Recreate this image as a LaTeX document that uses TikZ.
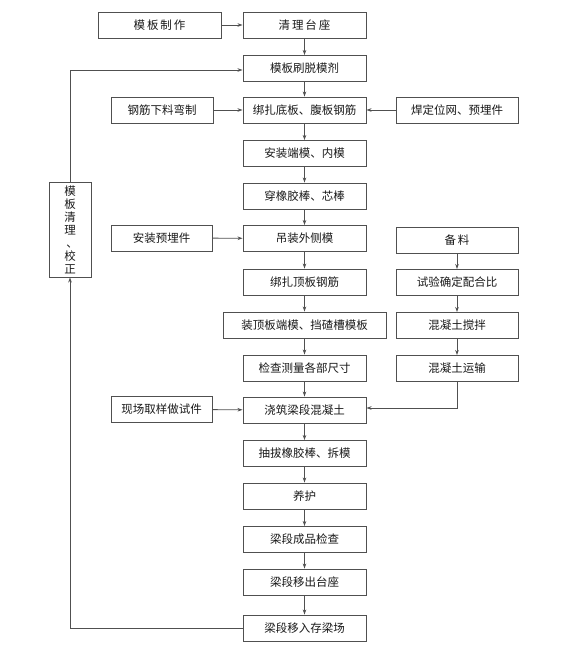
\documentclass[tikz,border=0pt]{standalone}
\usepackage{fontspec}
\setmainfont{Noto Sans CJK SC}
\usetikzlibrary{arrows.meta}
\definecolor{ln}{HTML}{505050}
\begin{document}
\begin{tikzpicture}[x=1pt,y=-1pt,
  bx/.style={draw=ln,line width=0.9pt,minimum height=26pt,inner sep=0pt,text=black!90,font=\fontsize{11.5}{12}\selectfont},
  arr/.style={draw=ln,line width=0.9pt,-{Stealth[length=5pt,width=3.5pt]}},
  ln/.style={draw=ln,line width=0.9pt}]
\useasboundingbox (0,0) rectangle (565,650);
% main column
\node[bx,minimum width=123pt] (a1) at (304.5,25) {清\,理\,台\,座};
\node[bx,minimum width=123pt] (a2) at (304.5,68.5) {模板刷脱模剂};
\node[bx,minimum width=123pt] (a3) at (304.5,110) {绑扎底板、腹板钢筋};
\node[bx,minimum width=123pt] (a4) at (304.5,153.5) {安装端模、内模};
\node[bx,minimum width=123pt] (a5) at (304.5,196) {穿橡胶棒、芯棒};
\node[bx,minimum width=123pt] (a6) at (304.5,238.5) {吊装外侧模};
\node[bx,minimum width=123pt] (a7) at (304.5,282) {绑扎顶板钢筋};
\node[bx,minimum width=163pt] (a8) at (304.5,325) {装顶板端模、挡碴槽模板};
\node[bx,minimum width=123pt] (a9) at (304.5,368) {检查测量各部尺寸};
\node[bx,minimum width=123pt] (a10) at (304.5,410) {浇筑梁段混凝土};
\node[bx,minimum width=123pt] (a11) at (304.5,453.5) {抽拔橡胶棒、拆模};
\node[bx,minimum width=123pt] (a12) at (304.5,496) {养护};
\node[bx,minimum width=123pt] (a13) at (304.5,539.5) {梁段成品检查};
\node[bx,minimum width=123pt] (a14) at (304.5,582) {梁段移出台座};
\node[bx,minimum width=123pt] (a15) at (304.5,628) {梁段移入存梁场};
% left inputs
\node[bx,minimum width=123pt] (l1) at (159.5,25) {模\,板\,制\,作};
\node[bx,minimum width=102pt] (l2) at (162,110) {钢筋下料弯制};
\node[bx,minimum width=101pt] (l3) at (161.5,238) {安装预埋件};
\node[bx,minimum width=101pt] (l4) at (161.5,409.5) {现场取样做试件};
% right inputs
\node[bx,minimum width=122pt] (r1) at (457,110) {焊定位网、预埋件};
\node[bx,minimum width=122pt] (r2) at (457,240) {备\,料};
\node[bx,minimum width=122pt] (r3) at (457,282.5) {试验确定配合比};
\node[bx,minimum width=122pt] (r4) at (457,325.5) {混凝土搅拌};
\node[bx,minimum width=122pt] (r5) at (457,368.5) {混凝土运输};
% left vertical box
\node[bx,minimum width=42pt,minimum height=95pt,align=center,font=\fontsize{11.5}{13}\selectfont] (v) at (70,229.5) {模\\板\\清\\理\\\hspace*{4pt}、\\校\\正};
% main chain
\foreach \i/\j in {a1/a2,a2/a3,a3/a4,a4/a5,a5/a6,a6/a7,a7/a8,a8/a9,a9/a10,a10/a11,a11/a12,a12/a13,a13/a14,a14/a15}
  \draw[arr] (\i) -- (\j);
\draw[arr] (l1) -- (a1);
\draw[arr] (l2) -- (a3);
\draw[arr] (r1) -- (a3);
\draw[arr] (l3) -- (a6);
\draw[arr] (l4) -- (a10);
\foreach \i/\j in {r2/r3,r3/r4,r4/r5}
  \draw[arr] (\i) -- (\j);
\draw[arr] (r5.south) |- ([yshift=2pt]a10.east);
% return loop
\draw[arr] (a15.west) -| (v.south);
\draw[arr] (v.north) |- ([yshift=-1.5pt]a2.west);
\end{tikzpicture}
\end{document}
